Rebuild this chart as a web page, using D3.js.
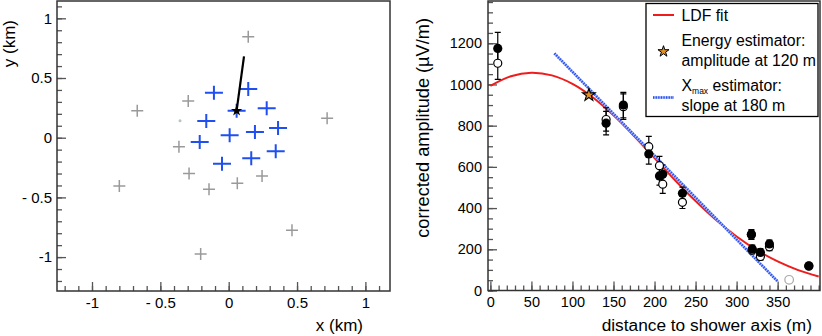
<!DOCTYPE html>
<html>
<head>
<meta charset="utf-8">
<script src="https://cdn.jsdelivr.net/npm/d3@7"></script>
<style>
body{margin:0;background:#fff;}
svg{display:block;font-family:'Liberation Sans',Arial,Helvetica,sans-serif;}
</style>
</head>
<body>
<div id="chart"></div>
<script>
// left panel: antenna stations (km)
var grayX=[0.143,-0.669,-0.296,-0.364,-0.29,-0.144,0.063,0.244,0.72,-0.80,0.463,-0.205];
var grayY=[0.846,0.226,0.307,-0.075,-0.30,-0.432,-0.382,-0.32,0.162,-0.405,-0.776,-0.974];
var blueX=[-0.108,0.143,0.058,0.278,-0.164,0.007,0.192,0.361,-0.212,-0.049,0.165,0.344];
var blueY=[0.377,0.408,0.226,0.246,0.14,0.02,0.048,0.081,-0.036,-0.218,-0.173,-0.114];
var dotX=[-0.356], dotY=[0.142];
var coreX=[0.058,0.112], coreY=[0.226,0.681];   // shower core and direction

// right panel: amplitude vs distance
var dist=[9,141,162,193,206,210,234,318,319,329,340,388];
var ampFilled=[1175,812,900,663,556,564,472,273,202,185,226,120];
var ampOpen=[1103,830,892,698,606,516,428,270,196,165,212,118];
var ampErr=[78,57,62,50,45,45,30,22,18,18,18,10];
var grayDist=[364], grayAmp=[52];
var ldfR=[0,25,50,75,100,125,150,175,200,225,250,275,300,325,350,375,400];
var ldfAmp=[993,1040,1057,1044,1003,937,850,750,643,535,434,342,262,195,141,99,68];
var slopeR=[78,350], slopeAmp=[1151,44];
var starR=[120], starAmp=[949];

var xMajL=[-1,-0.5,0,0.5,1], yMajL=[-1,-0.5,0,0.5,1];
var xMajR=[0,50,100,150,200,250,300,350], yMajR=[0,200,400,600,800,1000,1200];

var svg=d3.select("#chart").append("svg").attr("width",822).attr("height",336);

function fmtKm(d){
	if(d===0) return "0";
	if(d<0) return Math.abs(d)===1 ? "-1" : "- "+Math.abs(d);
	return ""+d;
}

function axes(x,y,xMaj,xMin,yMaj,yMin,fmt,fs,padX,padY){
	var b=y.range()[0], l=x.range()[0];
	var g=svg.append("g");
	g.append("g").attr("transform","translate(0,"+b+")")
		.call(d3.axisBottom(x).tickValues(xMin).tickSize(-5).tickFormat(""));
	g.append("g").attr("transform","translate(0,"+b+")")
		.call(d3.axisBottom(x).tickValues(xMaj).tickSize(-9).tickPadding(padX).tickFormat(fmt));
	g.append("g").attr("transform","translate("+l+",0)")
		.call(d3.axisLeft(y).tickValues(yMin).tickSize(-5).tickFormat(""));
	g.append("g").attr("transform","translate("+l+",0)")
		.call(d3.axisLeft(y).tickValues(yMaj).tickSize(-9).tickPadding(padY).tickFormat(fmt));
	g.selectAll(".domain").remove();
	g.selectAll(".tick line").attr("stroke","#555").attr("stroke-width",1.3);
	g.selectAll(".tick text").attr("fill","#000").style("font-size",fs+"px")
		.style("font-family","'Liberation Sans',Arial,sans-serif");
	svg.append("rect").attr("x",l).attr("y",y.range()[1])
		.attr("width",x.range()[1]-l).attr("height",b-y.range()[1])
		.attr("fill","none").attr("stroke","#333").attr("stroke-width",1.5);
}

// ---------- left panel
var xL=d3.scaleLinear().domain([-1.256,1.18]).range([57,390]);
var yL=d3.scaleLinear().domain([-1.284,1.145]).range([291,1]);
axes(xL,yL,xMajL,d3.range(-12,12).map(function(d){return d/10;}),
	yMajL,d3.range(-12,12).map(function(d){return d/10;}),fmtKm,15,6,5);

function cross(g,px,py,hw,hh,col,sw){
	g.append("path")
		.attr("d","M"+(px-hw)+","+py+"H"+(px+hw)+"M"+px+","+(py-hh)+"V"+(py+hh))
		.attr("stroke",col).attr("stroke-width",sw).attr("fill","none");
}
var gs=svg.append("g");
grayX.forEach(function(d,i){ cross(gs,xL(d),yL(grayY[i]),6,6,"#9a9a9a",1.5); });
blueX.forEach(function(d,i){ cross(gs,xL(d),yL(blueY[i]),9,7,"#1f4ff0",2); });
gs.append("circle").attr("cx",xL(dotX[0])).attr("cy",yL(dotY[0])).attr("r",1.5).attr("fill","#b8c4c0");

gs.append("line").attr("x1",xL(coreX[0])).attr("y1",yL(coreY[0]))
	.attr("x2",xL(coreX[1])).attr("y2",yL(coreY[1]))
	.attr("stroke","#000").attr("stroke-width",2.2);
gs.append("path").attr("d",d3.symbol().type(d3.symbolStar).size(40)())
	.attr("transform","translate("+xL(coreX[0])+","+yL(coreY[0])+")")
	.attr("fill","#000");

svg.append("text").attr("x",363).attr("y",331).attr("text-anchor","end")
	.style("font-size","17px").text("x (km)");
svg.append("text").attr("transform","translate(15,20) rotate(-90)").attr("text-anchor","end")
	.style("font-size","17px").text("y (km)");

// ---------- right panel
var xR=d3.scaleLinear().domain([-2.9,401.6]).range([488,820]);
var yR=d3.scaleLinear().domain([0,1405]).range([290.5,1]);
axes(xR,yR,xMajR,d3.range(0,401,10),yMajR,d3.range(0,1401,50),function(d){return ""+d;},14.5,6,6);

var gr=svg.append("g");
gr.append("path").datum(ldfR)
	.attr("d",d3.line().curve(d3.curveCatmullRom).x(function(d){return xR(d);})
		.y(function(d,i){return yR(ldfAmp[i]);}))
	.attr("fill","none").attr("stroke","#ee1c1c").attr("stroke-width",2);

function slopeLine(g,x1,y1,x2,y2){
	g.append("line").attr("x1",x1).attr("y1",y1).attr("x2",x2).attr("y2",y2)
		.attr("stroke","#a9bbff").attr("stroke-width",2.6);
	g.append("line").attr("x1",x1).attr("y1",y1).attr("x2",x2).attr("y2",y2)
		.attr("stroke","#2a50e8").attr("stroke-width",2.6).attr("stroke-dasharray","1.3 1.3");
}
slopeLine(gr,xR(slopeR[0]),yR(slopeAmp[0]),xR(slopeR[1]),yR(slopeAmp[1]));

function errBar(g,r,a,e){
	var px=xR(r);
	g.append("path")
		.attr("d","M"+px+","+yR(a-e)+"V"+yR(a+e)+"M"+(px-3)+","+yR(a-e)+"H"+(px+3)+"M"+(px-3)+","+yR(a+e)+"H"+(px+3))
		.attr("stroke","#000").attr("stroke-width",1.2).attr("fill","none");
}
dist.forEach(function(d,i){ errBar(gr,d,ampOpen[i],ampErr[i]); errBar(gr,d,ampFilled[i],ampErr[i]); });
gr.selectAll(".open").data(dist).enter().append("circle")
	.attr("cx",function(d){return xR(d);}).attr("cy",function(d,i){return yR(ampOpen[i]);})
	.attr("r",4).attr("fill","#fff").attr("stroke","#000").attr("stroke-width",1.2);
gr.selectAll(".filled").data(dist).enter().append("circle")
	.attr("cx",function(d){return xR(d);}).attr("cy",function(d,i){return yR(ampFilled[i]);})
	.attr("r",4.6).attr("fill","#000");
gr.append("circle").attr("cx",xR(grayDist[0])).attr("cy",yR(grayAmp[0])).attr("r",4.3)
	.attr("fill","#fff").attr("stroke","#aaa").attr("stroke-width",1.2);

var starPath=d3.symbol().type(d3.symbolStar).size(50)();
gr.append("path").attr("d",starPath)
	.attr("transform","translate("+xR(starR[0])+","+yR(starAmp[0])+")")
	.attr("fill","#e0902a").attr("stroke","#000").attr("stroke-width",1.1);

// legend
var lg=svg.append("g").style("font-size","15.8px");
lg.append("rect").attr("x",646).attr("y",3.5).attr("width",172).attr("height",113)
	.attr("fill","#fff").attr("stroke","#000").attr("stroke-width",1.3);
lg.append("line").attr("x1",653).attr("y1",15).attr("x2",674).attr("y2",15)
	.attr("stroke","#ee1c1c").attr("stroke-width",2);
lg.append("text").attr("x",681.5).attr("y",20.7).text("LDF fit");
lg.append("path").attr("d",d3.symbol().type(d3.symbolStar).size(38)()).attr("transform","translate(663.5,51.5)")
	.attr("fill","#e0902a").attr("stroke","#000").attr("stroke-width",1);
lg.append("text").attr("x",681.5).attr("y",45.7).text("Energy estimator:");
lg.append("text").attr("x",681.5).attr("y",65.7).text("amplitude at 120 m");
slopeLine(lg,653,97.5,674,97.5);
var xt=lg.append("text").attr("x",681.5).attr("y",90.7);
xt.append("tspan").text("X");
xt.append("tspan").attr("dy",3.5).style("font-size","8.5px").text("max");
xt.append("tspan").attr("dy",-3.5).text(" estimator:");
lg.append("text").attr("x",681.5).attr("y",110.7).text("slope at 180 m");

svg.append("text").attr("x",812).attr("y",331).attr("text-anchor","end")
	.style("font-size","17.3px").text("distance to shower axis (m)");
svg.append("text").attr("transform","translate(429,18) rotate(-90)").attr("text-anchor","end")
	.style("font-size","18.2px").text("corrected amplitude (\u00b5V/m)");
</script>
</body>
</html>
